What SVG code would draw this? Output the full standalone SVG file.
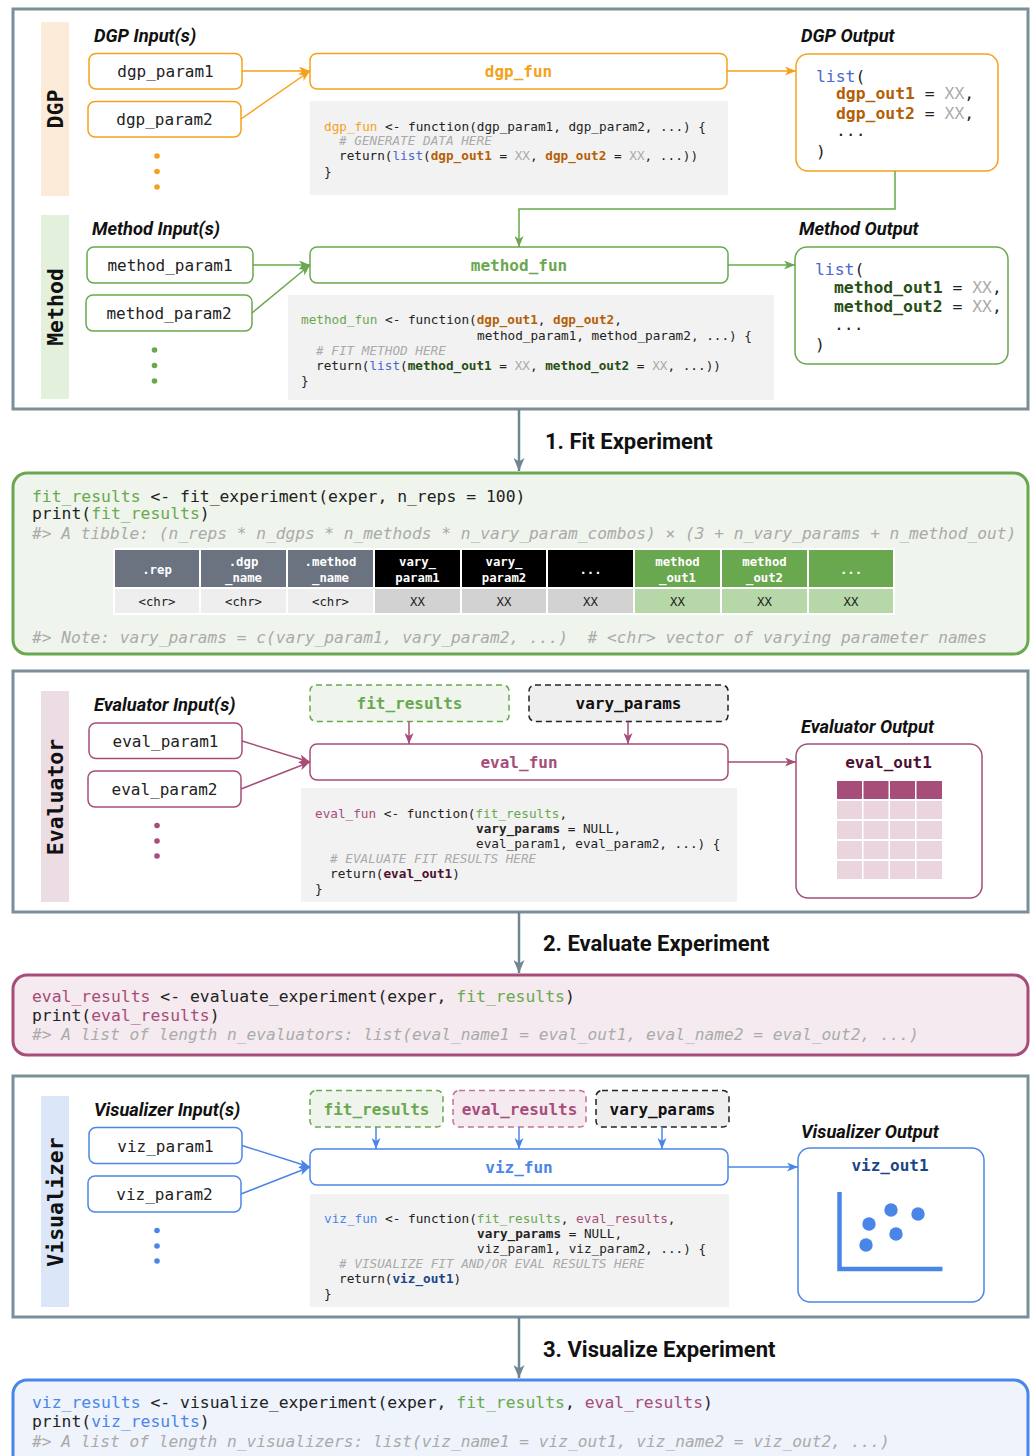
<svg xmlns="http://www.w3.org/2000/svg" width="1036" height="1456" viewBox="0 0 1036 1456">
<style>
.m{font-family:"DejaVu Sans Mono","Liberation Mono",monospace;}
.s{font-family:Roboto,"Liberation Sans",sans-serif;}
.lbl{font-family:Roboto,"Liberation Sans",sans-serif;font-weight:bold;font-style:italic;font-size:18.3px;fill:#111;}
.ttl{font-family:Roboto,"Liberation Sans",sans-serif;font-weight:bold;font-size:22px;fill:#111;}
.band{font-family:"DejaVu Sans Mono","Liberation Mono",monospace;font-weight:bold;font-size:21.5px;fill:#111;}
.nt{font-family:"DejaVu Sans Mono","Liberation Mono",monospace;font-size:16px;fill:#222;}
.code{font-family:"DejaVu Sans Mono","Liberation Mono",monospace;font-size:12.7px;fill:#222;}
.big{font-family:"DejaVu Sans Mono","Liberation Mono",monospace;font-size:16.4px;fill:#222;}
.cm{font-style:italic;fill:#aaa;}
.b{font-weight:bold;}
.xx{fill:#aaa;}
.lst{fill:#4a68cc;}
.sec{fill:#fff;stroke:#7b8f9b;stroke-width:3;}
.cb{fill:#f2f2f2;}
.th{font-family:"DejaVu Sans Mono","Liberation Mono",monospace;font-size:12.3px;font-weight:bold;fill:#fff;}
.td{font-family:"DejaVu Sans Mono","Liberation Mono",monospace;font-size:12.3px;fill:#222;}
</style>
<defs>
<marker id="aO" markerUnits="userSpaceOnUse" markerWidth="11" markerHeight="9" refX="11" refY="4.5" orient="auto"><path d="M0,0 L11,4.5 L0,9 L3,4.5 Z" fill="#f6a11a"/></marker>
<marker id="aG" markerUnits="userSpaceOnUse" markerWidth="11" markerHeight="9" refX="11" refY="4.5" orient="auto"><path d="M0,0 L11,4.5 L0,9 L3,4.5 Z" fill="#6aa84f"/></marker>
<marker id="aP" markerUnits="userSpaceOnUse" markerWidth="11" markerHeight="9" refX="11" refY="4.5" orient="auto"><path d="M0,0 L11,4.5 L0,9 L3,4.5 Z" fill="#a64d79"/></marker>
<marker id="aB" markerUnits="userSpaceOnUse" markerWidth="11" markerHeight="9" refX="11" refY="4.5" orient="auto"><path d="M0,0 L11,4.5 L0,9 L3,4.5 Z" fill="#4a86e8"/></marker>
<marker id="aS" markerUnits="userSpaceOnUse" markerWidth="13" markerHeight="11" refX="13" refY="5.5" orient="auto"><path d="M0,0 L13,5.5 L0,11 L3.5,5.5 Z" fill="#6f8693"/></marker>
</defs>
<rect width="1036" height="1456" fill="#fff"/>

<!-- Section containers -->
<g id="section-dgp-method">
<rect class="sec" x="13" y="9" width="1015" height="400"/>
<rect x="41" y="22" width="28" height="174" fill="#fcebd9"/>
<text class="band" transform="translate(62.5,109) rotate(-90)" text-anchor="middle">DGP</text>
<rect x="41" y="215" width="28" height="184" fill="#e3f0dc"/>
<text class="band" transform="translate(62.5,307) rotate(-90)" text-anchor="middle">Method</text>
<text class="lbl" x="94" y="41.5">DGP Input(s)</text>
<text class="lbl" x="801" y="41.5">DGP Output</text>
<text class="lbl" x="92" y="234.5">Method Input(s)</text>
<text class="lbl" x="799" y="234.5">Method Output</text>
</g>

<g id="dgp_param1"><rect x="89" y="53.5" width="153" height="35.5" rx="7" fill="#fff" stroke="#f6a11a" stroke-width="1.5"/><text class="nt" x="165.5" y="77" text-anchor="middle">dgp_param1</text></g>
<g id="dgp_param2"><rect x="88" y="101.5" width="153" height="35.5" rx="7" fill="#fff" stroke="#f6a11a" stroke-width="1.5"/><text class="nt" x="164.5" y="125" text-anchor="middle">dgp_param2</text></g>
<g id="dgp_dots" fill="#f6a11a"><circle cx="157" cy="156" r="2.8"/><circle cx="157" cy="171.5" r="2.8"/><circle cx="157" cy="187" r="2.8"/></g>
<g id="dgp_fun"><rect x="310" y="53.5" width="417" height="35.5" rx="7" fill="#fff" stroke="#f6a11a" stroke-width="1.5"/><text class="nt b" x="518.5" y="77" text-anchor="middle" style="fill:#f6a11a">dgp_fun</text></g>
<g id="dgp_code"><rect class="cb" x="310" y="101" width="418" height="94"/>
<text class="code" x="324" y="130.5"><tspan style="fill:#f6a11a">dgp_fun</tspan> &lt;- function(dgp_param1, dgp_param2, ...) {</text>
<text class="code cm" x="339" y="145"># GENERATE DATA HERE</text>
<text class="code" x="339" y="160">return(<tspan class="lst">list</tspan>(<tspan class="b" style="fill:#b45f06">dgp_out1</tspan> = <tspan class="xx">XX</tspan>, <tspan class="b" style="fill:#b45f06">dgp_out2</tspan> = <tspan class="xx">XX</tspan>, ...))</text>
<text class="code" x="324" y="176">}</text></g>
<g id="dgp_output"><rect x="796" y="54" width="202" height="117" rx="12" fill="#fff" stroke="#f6a11a" stroke-width="1.5"/>
<text class="big" x="816" y="81.5"><tspan class="lst">list</tspan>(</text>
<text class="big" x="836" y="98.5"><tspan class="b" style="fill:#b45f06">dgp_out1</tspan> = <tspan class="xx">XX</tspan>,</text>
<text class="big" x="836" y="118.5"><tspan class="b" style="fill:#b45f06">dgp_out2</tspan> = <tspan class="xx">XX</tspan>,</text>
<text class="big" x="836" y="135.5">...</text>
<text class="big" x="816" y="157">)</text></g>

<g id="method_param1"><rect x="87" y="247" width="166" height="36" rx="7" fill="#fff" stroke="#6aa84f" stroke-width="1.5"/><text class="nt" x="170" y="271" text-anchor="middle">method_param1</text></g>
<g id="method_param2"><rect x="86" y="295" width="166" height="36" rx="7" fill="#fff" stroke="#6aa84f" stroke-width="1.5"/><text class="nt" x="169" y="319" text-anchor="middle">method_param2</text></g>
<g id="method_dots" fill="#6aa84f"><circle cx="154.5" cy="350" r="2.8"/><circle cx="154.5" cy="365.5" r="2.8"/><circle cx="154.5" cy="381" r="2.8"/></g>
<g id="method_fun"><rect x="310" y="247" width="418" height="36" rx="7" fill="#fff" stroke="#6aa84f" stroke-width="1.5"/><text class="nt b" x="519" y="271" text-anchor="middle" style="fill:#6aa84f">method_fun</text></g>
<g id="method_code"><rect class="cb" x="288" y="295" width="486" height="105"/>
<text class="code" x="301" y="323.5"><tspan style="fill:#6aa84f">method_fun</tspan> &lt;- function(<tspan class="b" style="fill:#b45f06">dgp_out1</tspan>, <tspan class="b" style="fill:#b45f06">dgp_out2</tspan>,</text>
<text class="code" x="477" y="339.5">method_param1, method_param2, ...) {</text>
<text class="code cm" x="316" y="354.5"># FIT METHOD HERE</text>
<text class="code" x="316" y="369.5">return(<tspan class="lst">list</tspan>(<tspan class="b" style="fill:#274e13">method_out1</tspan> = <tspan class="xx">XX</tspan>, <tspan class="b" style="fill:#274e13">method_out2</tspan> = <tspan class="xx">XX</tspan>, ...))</text>
<text class="code" x="301" y="384.5">}</text></g>
<g id="method_output"><rect x="795" y="247" width="213" height="117" rx="12" fill="#fff" stroke="#6aa84f" stroke-width="1.5"/>
<text class="big" x="815" y="274.5"><tspan class="lst">list</tspan>(</text>
<text class="big" x="834" y="292.5"><tspan class="b" style="fill:#274e13">method_out1</tspan> = <tspan class="xx">XX</tspan>,</text>
<text class="big" x="834" y="311.5"><tspan class="b" style="fill:#274e13">method_out2</tspan> = <tspan class="xx">XX</tspan>,</text>
<text class="big" x="834" y="329.5">...</text>
<text class="big" x="815" y="349.5">)</text></g>

<!-- Fit experiment -->
<text class="ttl" x="545" y="449">1. Fit Experiment</text>
<g id="fit_results_box">
<rect x="13" y="473" width="1015" height="181" rx="14" fill="#eff5ec" stroke="#6aa84f" stroke-width="3"/>
<text class="big" x="32" y="501.5"><tspan style="fill:#6aa84f">fit_results</tspan> &lt;- fit_experiment(exper, n_reps = 100)</text>
<text class="big" x="32" y="518.5">print(<tspan style="fill:#6aa84f">fit_results</tspan>)</text>
<text class="big cm" x="32" y="538.5" style="font-size:16.2px">#&gt; A tibble: (n_reps * n_dgps * n_methods * n_vary_param_combos) × (3 + n_vary_params + n_method_out)</text>
<g id="fit_table" stroke="#fff" stroke-width="2">
<rect x="114" y="549" width="86" height="39" fill="#6b7380"/>
<rect x="200" y="549" width="87" height="39" fill="#6b7380"/>
<rect x="287" y="549" width="87" height="39" fill="#6b7380"/>
<rect x="374" y="549" width="87" height="39" fill="#000"/>
<rect x="461" y="549" width="86" height="39" fill="#000"/>
<rect x="547" y="549" width="87" height="39" fill="#000"/>
<rect x="634" y="549" width="87" height="39" fill="#6aa84f"/>
<rect x="721" y="549" width="87" height="39" fill="#6aa84f"/>
<rect x="808" y="549" width="86" height="39" fill="#6aa84f"/>
<rect x="114" y="588" width="86" height="26" fill="#eeeeee"/>
<rect x="200" y="588" width="87" height="26" fill="#eeeeee"/>
<rect x="287" y="588" width="87" height="26" fill="#eeeeee"/>
<rect x="374" y="588" width="87" height="26" fill="#d2d2d2"/>
<rect x="461" y="588" width="86" height="26" fill="#d2d2d2"/>
<rect x="547" y="588" width="87" height="26" fill="#d2d2d2"/>
<rect x="634" y="588" width="87" height="26" fill="#b6d7a8"/>
<rect x="721" y="588" width="87" height="26" fill="#b6d7a8"/>
<rect x="808" y="588" width="86" height="26" fill="#b6d7a8"/>
</g>
<g text-anchor="middle">
<text class="th" x="157" y="574">.rep</text>
<text class="th" x="243.5" y="566">.dgp</text><text class="th" x="243.5" y="582">_name</text>
<text class="th" x="330.5" y="566">.method</text><text class="th" x="330.5" y="582">_name</text>
<text class="th" x="417.5" y="566">vary_</text><text class="th" x="417.5" y="582">param1</text>
<text class="th" x="504" y="566">vary_</text><text class="th" x="504" y="582">param2</text>
<text class="th" x="590.5" y="574">...</text>
<text class="th" x="677.5" y="566">method</text><text class="th" x="677.5" y="582">_out1</text>
<text class="th" x="764.5" y="566">method</text><text class="th" x="764.5" y="582">_out2</text>
<text class="th" x="851" y="574">...</text>
<text class="td" x="157" y="606">&lt;chr&gt;</text>
<text class="td" x="243.5" y="606">&lt;chr&gt;</text>
<text class="td" x="330.5" y="606">&lt;chr&gt;</text>
<text class="td xx" x="417.5" y="606">XX</text>
<text class="td xx" x="504" y="606">XX</text>
<text class="td xx" x="590.5" y="606">XX</text>
<text class="td xx" x="677.5" y="606">XX</text>
<text class="td xx" x="764.5" y="606">XX</text>
<text class="td xx" x="851" y="606">XX</text>
</g>
<text class="big cm" x="32" y="642.5" xml:space="preserve" style="font-size:16.2px;white-space:pre">#&gt; Note: vary_params = c(vary_param1, vary_param2, ...)  # &lt;chr&gt; vector of varying parameter names</text>
</g>

<!-- Evaluator -->
<g id="section-evaluator">
<rect class="sec" x="13" y="671" width="1015" height="241"/>
<rect x="41" y="691" width="28" height="211" fill="#ecdce4"/>
<text class="band" transform="translate(62.5,797) rotate(-90)" text-anchor="middle">Evaluator</text>
<text class="lbl" x="94" y="710.5">Evaluator Input(s)</text>
<text class="lbl" x="801" y="732.5">Evaluator Output</text>
</g>
<g id="eval_param1"><rect x="89" y="723" width="153" height="35.5" rx="7" fill="#fff" stroke="#a64d79" stroke-width="1.5"/><text class="nt" x="165.5" y="746.5" text-anchor="middle">eval_param1</text></g>
<g id="eval_param2"><rect x="88" y="771" width="153" height="36" rx="7" fill="#fff" stroke="#a64d79" stroke-width="1.5"/><text class="nt" x="164.5" y="794.5" text-anchor="middle">eval_param2</text></g>
<g id="eval_dots" fill="#a64d79"><circle cx="157" cy="825.5" r="2.8"/><circle cx="157" cy="841" r="2.8"/><circle cx="157" cy="856" r="2.8"/></g>
<g id="eval_fit_results"><rect x="310" y="685" width="199" height="36.5" rx="6" fill="#eff5ec" stroke="#6aa84f" stroke-width="1.5" stroke-dasharray="6 4"/><text class="nt b" x="409.5" y="709" text-anchor="middle" style="fill:#6aa84f">fit_results</text></g>
<g id="eval_vary_params"><rect x="529" y="685" width="199" height="36.5" rx="6" fill="#eeeeee" stroke="#222" stroke-width="1.5" stroke-dasharray="6 4"/><text class="nt b" x="628.5" y="709" text-anchor="middle" style="fill:#111">vary_params</text></g>
<g id="eval_fun"><rect x="310" y="744" width="418" height="36" rx="7" fill="#fff" stroke="#a64d79" stroke-width="1.5"/><text class="nt b" x="519" y="768" text-anchor="middle" style="fill:#a64d79">eval_fun</text></g>
<g id="eval_code"><rect class="cb" x="301" y="788" width="436" height="114"/>
<text class="code" x="315" y="817.5"><tspan style="fill:#a64d79">eval_fun</tspan> &lt;- function(<tspan style="fill:#6aa84f">fit_results</tspan>,</text>
<text class="code" x="476" y="832.5"><tspan class="b">vary_params</tspan> = NULL,</text>
<text class="code" x="476" y="847.5">eval_param1, eval_param2, ...) {</text>
<text class="code cm" x="330" y="862.5"># EVALUATE FIT RESULTS HERE</text>
<text class="code" x="330" y="877.5">return(<tspan class="b" style="fill:#4c1130">eval_out1</tspan>)</text>
<text class="code" x="315" y="892.5">}</text></g>
<g id="eval_output"><rect x="796" y="744" width="186" height="154" rx="12" fill="#fff" stroke="#a64d79" stroke-width="1.5"/>
<text class="nt b" x="888.5" y="768" text-anchor="middle" style="fill:#4c1130">eval_out1</text>
<g fill="#a64d79"><rect x="837" y="781" width="25" height="18"/><rect x="863.5" y="781" width="25" height="18"/><rect x="890" y="781" width="25" height="18"/><rect x="916.5" y="781" width="25.5" height="18"/></g>
<g fill="#ead5df">
<rect x="837" y="801" width="25" height="18"/><rect x="863.5" y="801" width="25" height="18"/><rect x="890" y="801" width="25" height="18"/><rect x="916.5" y="801" width="25.5" height="18"/>
<rect x="837" y="821" width="25" height="18"/><rect x="863.5" y="821" width="25" height="18"/><rect x="890" y="821" width="25" height="18"/><rect x="916.5" y="821" width="25.5" height="18"/>
<rect x="837" y="841" width="25" height="18"/><rect x="863.5" y="841" width="25" height="18"/><rect x="890" y="841" width="25" height="18"/><rect x="916.5" y="841" width="25.5" height="18"/>
<rect x="837" y="861" width="25" height="18"/><rect x="863.5" y="861" width="25" height="18"/><rect x="890" y="861" width="25" height="18"/><rect x="916.5" y="861" width="25.5" height="18"/>
</g></g>

<!-- Evaluate experiment -->
<text class="ttl" x="543" y="951">2. Evaluate Experiment</text>
<g id="eval_results_box">
<rect x="13" y="975" width="1015" height="80" rx="14" fill="#f5eaef" stroke="#a64d79" stroke-width="3"/>
<text class="big" x="32" y="1001.5"><tspan style="fill:#a64d79">eval_results</tspan> &lt;- evaluate_experiment(exper, <tspan style="fill:#6aa84f">fit_results</tspan>)</text>
<text class="big" x="32" y="1020.5">print(<tspan style="fill:#a64d79">eval_results</tspan>)</text>
<text class="big cm" x="32" y="1039.5" style="font-size:16.2px">#&gt; A list of length n_evaluators: list(eval_name1 = eval_out1, eval_name2 = eval_out2, ...)</text>
</g>

<!-- Visualizer -->
<g id="section-visualizer">
<rect class="sec" x="13" y="1076" width="1015" height="241"/>
<rect x="41" y="1096" width="28" height="211" fill="#dbe7f9"/>
<text class="band" transform="translate(62.5,1202) rotate(-90)" text-anchor="middle">Visualizer</text>
<text class="lbl" x="94" y="1115.5">Visualizer Input(s)</text>
<text class="lbl" x="801" y="1137.5">Visualizer Output</text>
</g>
<g id="viz_param1"><rect x="89" y="1127.5" width="153" height="36" rx="7" fill="#fff" stroke="#4a86e8" stroke-width="1.5"/><text class="nt" x="165.5" y="1151.5" text-anchor="middle">viz_param1</text></g>
<g id="viz_param2"><rect x="88" y="1176" width="153" height="36" rx="7" fill="#fff" stroke="#4a86e8" stroke-width="1.5"/><text class="nt" x="164.5" y="1199.5" text-anchor="middle">viz_param2</text></g>
<g id="viz_dots" fill="#4a86e8"><circle cx="157" cy="1230.5" r="2.8"/><circle cx="157" cy="1246" r="2.8"/><circle cx="157" cy="1261" r="2.8"/></g>
<g id="viz_fit_results"><rect x="310" y="1090.5" width="133" height="36.5" rx="6" fill="#eff5ec" stroke="#6aa84f" stroke-width="1.5" stroke-dasharray="6 4"/><text class="nt b" x="376.5" y="1114.5" text-anchor="middle" style="fill:#6aa84f">fit_results</text></g>
<g id="viz_eval_results"><rect x="453" y="1090.5" width="133" height="36.5" rx="6" fill="#f5eaef" stroke="#c2739a" stroke-width="1.5" stroke-dasharray="6 4"/><text class="nt b" x="519.5" y="1114.5" text-anchor="middle" style="fill:#a64d79">eval_results</text></g>
<g id="viz_vary_params"><rect x="596" y="1090.5" width="133" height="36.5" rx="6" fill="#eeeeee" stroke="#222" stroke-width="1.5" stroke-dasharray="6 4"/><text class="nt b" x="662.5" y="1114.5" text-anchor="middle" style="fill:#111">vary_params</text></g>
<g id="viz_fun"><rect x="310" y="1149" width="418" height="36" rx="7" fill="#fff" stroke="#4a86e8" stroke-width="1.5"/><text class="nt b" x="519" y="1173" text-anchor="middle" style="fill:#4a86e8">viz_fun</text></g>
<g id="viz_code"><rect class="cb" x="310" y="1194" width="419" height="113"/>
<text class="code" x="324" y="1222.5"><tspan style="fill:#4a86e8">viz_fun</tspan> &lt;- function(<tspan style="fill:#6aa84f">fit_results</tspan>, <tspan style="fill:#a64d79">eval_results</tspan>,</text>
<text class="code" x="477" y="1237.5"><tspan class="b">vary_params</tspan> = NULL,</text>
<text class="code" x="477" y="1252.5">viz_param1, viz_param2, ...) {</text>
<text class="code cm" x="339" y="1267.5"># VISUALIZE FIT AND/OR EVAL RESULTS HERE</text>
<text class="code" x="339" y="1282.5">return(<tspan class="b" style="fill:#1c4587">viz_out1</tspan>)</text>
<text class="code" x="324" y="1297.5">}</text></g>
<g id="viz_output"><rect x="798" y="1148" width="186" height="154" rx="12" fill="#fff" stroke="#4a86e8" stroke-width="1.5"/>
<text class="nt b" x="890" y="1171" text-anchor="middle" style="fill:#1c4587">viz_out1</text>
<path d="M839.5,1192 V1269 H942.5" fill="none" stroke="#4a86e8" stroke-width="4.5"/>
<g fill="#4a86e8"><circle cx="869" cy="1224" r="6.7"/><circle cx="891" cy="1210" r="6.7"/><circle cx="918" cy="1214" r="6.7"/><circle cx="896" cy="1234" r="6.7"/><circle cx="866" cy="1245" r="6.7"/></g>
</g>

<!-- Visualize experiment -->
<text class="ttl" x="543" y="1357">3. Visualize Experiment</text>
<g id="viz_results_box">
<rect x="13" y="1380" width="1015" height="100" rx="14" fill="#eef3fc" stroke="#4a86e8" stroke-width="3"/>
<text class="big" x="32" y="1407.5"><tspan style="fill:#4a86e8">viz_results</tspan> &lt;- visualize_experiment(exper, <tspan style="fill:#6aa84f">fit_results</tspan>, <tspan style="fill:#a64d79">eval_results</tspan>)</text>
<text class="big" x="32" y="1426.5">print(<tspan style="fill:#4a86e8">viz_results</tspan>)</text>
<text class="big cm" x="32" y="1446.5" style="font-size:16.2px">#&gt; A list of length n_visualizers: list(viz_name1 = viz_out1, viz_name2 = viz_out2, ...)</text>
</g>

<!-- Connectors -->
<g id="connectors" fill="none" stroke-width="1.5">
<line x1="242" y1="71" x2="310" y2="71" stroke="#f6a11a" marker-end="url(#aO)"/>
<line x1="241" y1="119" x2="310" y2="71" stroke="#f6a11a" marker-end="url(#aO)"/>
<line x1="727" y1="71" x2="796" y2="71" stroke="#f6a11a" marker-end="url(#aO)"/>
<path d="M895,171 V209 H519 V247" stroke="#6aa84f" marker-end="url(#aG)"/>
<line x1="253" y1="265" x2="310" y2="265" stroke="#6aa84f" marker-end="url(#aG)"/>
<line x1="252" y1="313" x2="310" y2="265" stroke="#6aa84f" marker-end="url(#aG)"/>
<line x1="728" y1="265" x2="795" y2="265" stroke="#6aa84f" marker-end="url(#aG)"/>
<line x1="519" y1="409" x2="519" y2="471" stroke="#6f8693" stroke-width="2.5" marker-end="url(#aS)"/>
<line x1="242" y1="741" x2="310" y2="762" stroke="#a64d79" marker-end="url(#aP)"/>
<line x1="241" y1="789" x2="310" y2="762" stroke="#a64d79" marker-end="url(#aP)"/>
<line x1="409" y1="721.5" x2="409" y2="744" stroke="#a64d79" marker-end="url(#aP)"/>
<line x1="628" y1="721.5" x2="628" y2="744" stroke="#a64d79" marker-end="url(#aP)"/>
<line x1="728" y1="762" x2="796" y2="762" stroke="#a64d79" marker-end="url(#aP)"/>
<line x1="519" y1="912" x2="519" y2="973" stroke="#6f8693" stroke-width="2.5" marker-end="url(#aS)"/>
<line x1="242" y1="1145.5" x2="310" y2="1167" stroke="#4a86e8" marker-end="url(#aB)"/>
<line x1="241" y1="1194" x2="310" y2="1167" stroke="#4a86e8" marker-end="url(#aB)"/>
<line x1="376" y1="1127" x2="376" y2="1149" stroke="#4a86e8" marker-end="url(#aB)"/>
<line x1="519" y1="1127" x2="519" y2="1149" stroke="#4a86e8" marker-end="url(#aB)"/>
<line x1="662" y1="1127" x2="662" y2="1149" stroke="#4a86e8" marker-end="url(#aB)"/>
<line x1="728" y1="1167" x2="798" y2="1167" stroke="#4a86e8" marker-end="url(#aB)"/>
<line x1="519" y1="1317" x2="519" y2="1378" stroke="#6f8693" stroke-width="2.5" marker-end="url(#aS)"/>
</g>
</svg>
